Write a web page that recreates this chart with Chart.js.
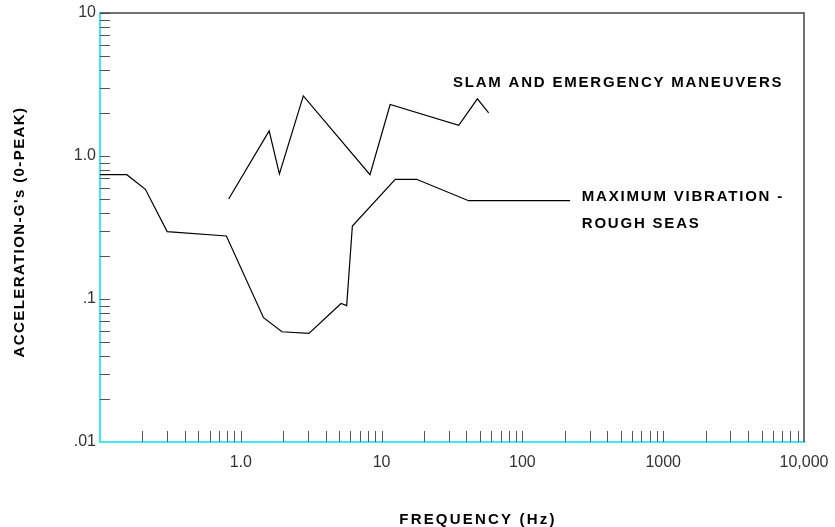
<!DOCTYPE html>
<html>
<head>
<meta charset="utf-8">
<script src="https://cdn.jsdelivr.net/npm/chart.js@4.4.1/dist/chart.umd.min.js"></script>
<style>
  html, body { margin: 0; padding: 0; background: #fff; }
  #wrap { width: 835px; height: 527px; }
</style>
</head>
<body>
<div id="wrap"><canvas id="vibration" width="835" height="527"></canvas></div>
<script>
// values: frequency in Hz, acceleration in g (0-peak)
const roughFreq  = [0.1, 0.155, 0.21, 0.30, 0.79, 1.45, 1.96, 3.05, 5.15, 5.65, 6.2, 12.5, 17.7, 41.5, 218];
const roughAccel = [0.74, 0.74, 0.585, 0.296, 0.276, 0.074, 0.059, 0.0575, 0.093, 0.090, 0.324, 0.687, 0.687, 0.487, 0.487];

const slamFreq  = [0.82, 1.59, 1.88, 2.78, 8.27, 11.5, 35.3, 47.9, 57.6];
const slamAccel = [0.50, 1.50, 0.75, 2.63, 0.74, 2.29, 1.64, 2.51, 2.0];

const xTickValues = [1, 10, 100, 1000, 10000];
const xTickLabels = ["1.0", "10", "100", "1000", "10,000"];
const yTickValues = [0.01, 0.1, 1, 10];
const yTickLabels = [".01", ".1", "1.0", "10"];

// curve captions, anchored at data coordinates (left edge, vertical middle)
const captions = [
  { text: "SLAM AND EMERGENCY MANEUVERS", x: 32.1, y: 3.24 },
  { text: "MAXIMUM VIBRATION -", x: 264, y: 0.519 },
  { text: "ROUGH SEAS", x: 264, y: 0.338 }
];

const toPoints = (xs, ys) => xs.map((f, i) => ({ x: f, y: ys[i] }));

const boldFont = "bold 15px 'Liberation Sans', Arial, sans-serif";
const cyan = "#3fe9f0";

//minor ticks inside the frame, top/right frame, captions and axis titles
const decorations = {
  id: "decorations",
  beforeDatasetsDraw(chart) {
    const { ctx, chartArea: a, scales: { x, y } } = chart;
    ctx.save();
    ctx.strokeStyle = "#555";
    ctx.lineWidth = 1;
    ctx.beginPath();
    for (let e = -1; e <= 3; e++) {
      for (let m = 2; m <= 10; m++) {
        const v = m * Math.pow(10, e);
        if (v >= 10000) continue;
        const px = Math.round(x.getPixelForValue(v)) + 0.5;
        ctx.moveTo(px, a.bottom);
        ctx.lineTo(px, a.bottom - 11);
      }
    }
    for (let e = -2; e <= 0; e++) {
      for (let m = 2; m <= 10; m++) {
        const v = m * Math.pow(10, e);
        const py = Math.round(y.getPixelForValue(v)) + 0.5;
        ctx.moveTo(a.left, py);
        ctx.lineTo(a.left + 10, py);
      }
    }
    ctx.stroke();
    ctx.restore();
  },
  afterDraw(chart) {
    const { ctx, chartArea: a, scales: { x, y } } = chart;
    ctx.save();
    ctx.strokeStyle = "#444";
    ctx.lineWidth = 1.5;
    ctx.beginPath();
    ctx.moveTo(a.left, a.top);
    ctx.lineTo(a.right, a.top);
    ctx.lineTo(a.right, a.bottom);
    ctx.stroke();

    ctx.fillStyle = "#000";
    ctx.font = boldFont;
    ctx.textBaseline = "middle";
    ctx.textAlign = "left";
    ctx.letterSpacing = "1.8px";
    captions.forEach(c => {
      ctx.fillText(c.text, x.getPixelForValue(c.x), y.getPixelForValue(c.y));
    });

    ctx.textAlign = "center";
    ctx.letterSpacing = "2.2px";
    ctx.fillText("FREQUENCY (Hz)", 478, 520);

    ctx.letterSpacing = "1.4px";
    ctx.translate(20, 232);
    ctx.rotate(-Math.PI / 2);
    ctx.fillText("ACCELERATION-G's (0-PEAK)", 0, 0);
    ctx.restore();
  }
};

const tickFont = { family: "'Liberation Sans', Arial, sans-serif", size: 16 };

new Chart(document.getElementById("vibration"), {
  type: "line",
  data: {
    datasets: [
      {
        label: "Maximum vibration - rough seas",
        data: toPoints(roughFreq, roughAccel),
        borderColor: "#000",
        borderWidth: 1.2,
        pointRadius: 0,
        tension: 0,
        fill: false
      },
      {
        label: "Slam and emergency maneuvers",
        data: toPoints(slamFreq, slamAccel),
        borderColor: "#000",
        borderWidth: 1.2,
        pointRadius: 0,
        tension: 0,
        fill: false
      }
    ]
  },
  options: {
    responsive: false,
    animation: false,
    events: [],
    layout: { padding: { left: 0, top: 13, right: 31, bottom: 0 } },
    scales: {
      x: {
        type: "logarithmic",
        min: 0.1,
        max: 10000,
        afterFit: s => { s.height = 85; s.paddingLeft = 0; s.paddingRight = 0; },
        afterBuildTicks: s => { s.ticks = xTickValues.map(v => ({ value: v })); },
        grid: { display: true, drawOnChartArea: false, drawTicks: false },
        border: { display: true, color: cyan, width: 2 },
        ticks: {
          autoSkip: false,
          maxRotation: 0,
          padding: 11,
          color: "#333",
          font: tickFont,
          callback: (v, i) => xTickLabels[i]
        }
      },
      y: {
        type: "logarithmic",
        min: 0.01,
        max: 10,
        afterFit: s => { s.width = 100; s.paddingTop = 0; s.paddingBottom = 0; },
        afterBuildTicks: s => { s.ticks = yTickValues.map(v => ({ value: v })); },
        grid: { display: true, drawOnChartArea: false, drawTicks: false },
        border: { display: true, color: cyan, width: 2 },
        ticks: {
          autoSkip: false,
          padding: 4,
          color: "#333",
          font: tickFont,
          callback: (v, i) => yTickLabels[i]
        }
      }
    },
    plugins: {
      legend: { display: false },
      tooltip: { enabled: false }
    }
  },
  plugins: [decorations]
});
</script>
</body>
</html>
